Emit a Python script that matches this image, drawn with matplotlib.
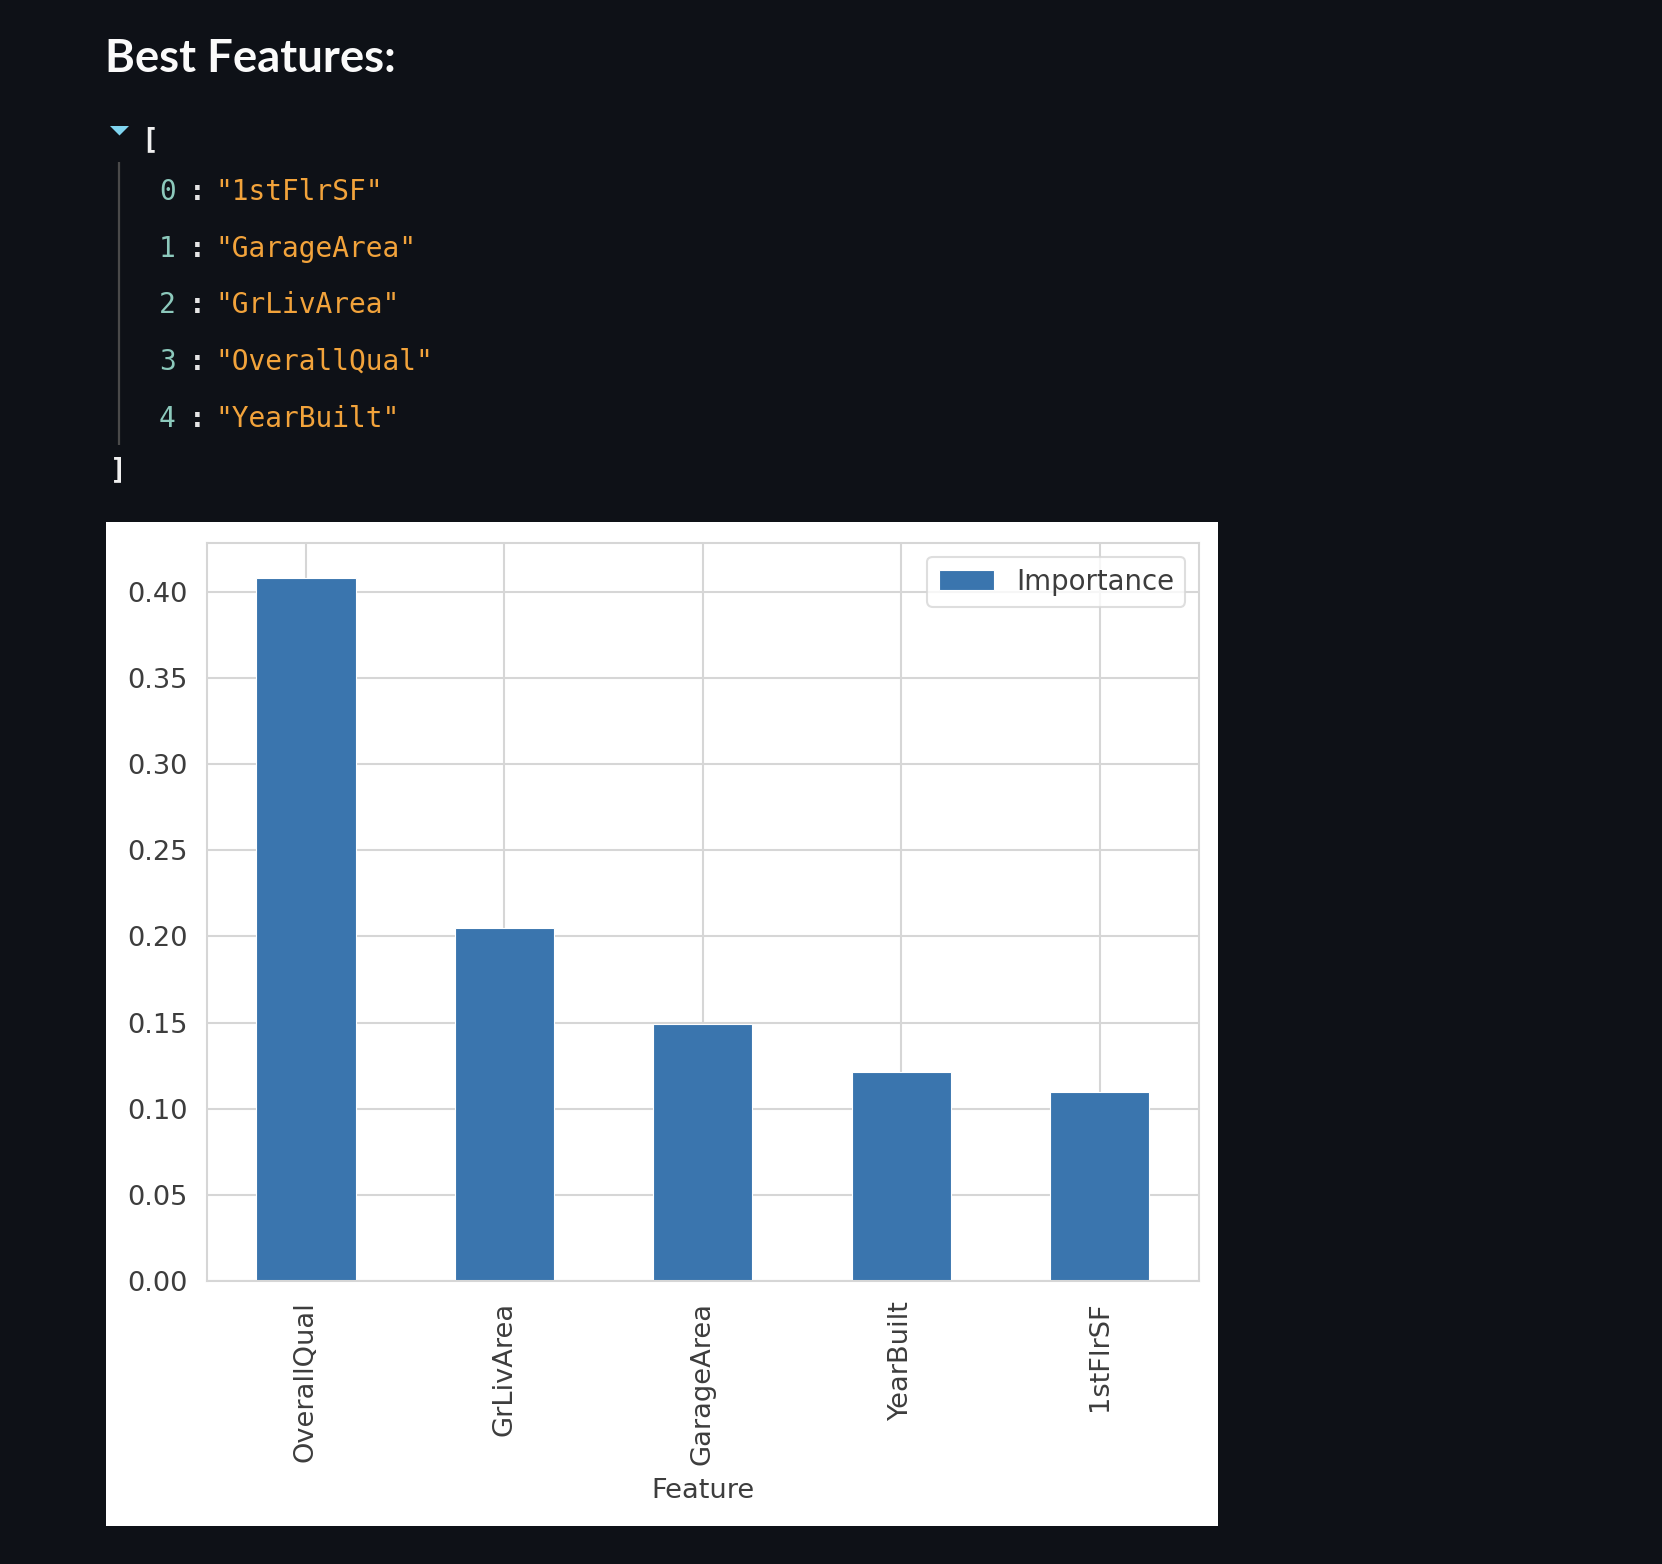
import matplotlib
matplotlib.use("Agg")
import matplotlib.pyplot as plt
from matplotlib.patches import Rectangle, Polygon

# ---- data ----
features = ["OverallQual", "GrLivArea", "GarageArea", "YearBuilt", "1stFlrSF"]
importance = [0.408, 0.205, 0.149, 0.121, 0.1095]
best_features = ["1stFlrSF", "GarageArea", "GrLivArea", "OverallQual", "YearBuilt"]
yticks = [0.00, 0.05, 0.10, 0.15, 0.20, 0.25, 0.30, 0.35, 0.40]
title_text = "Best Features:"
legend_label = "Importance"
xlabel_text = "Feature"

W, H = 1662, 1564
BG = "#0e1117"
fig = plt.figure(figsize=(W / 100, H / 100), dpi=100, facecolor=BG)

# full-figure overlay axes in pixel coordinates
bg = fig.add_axes([0, 0, 1, 1])
bg.set_xlim(0, W)
bg.set_ylim(H, 0)
bg.axis("off")
bg.set_zorder(0)

# title
bg.text(105, 72, title_text, color="#fafafa", fontsize=32.8, fontweight="bold",
        family=["Lato", "DejaVu Sans"], va="baseline", ha="left")

# JSON view
bg.add_patch(Polygon([[110, 126], [129, 126], [119.5, 135.5]], closed=True,
                     facecolor="#7fd4ef", edgecolor="none"))
mono = ["DejaVu Sans Mono"]
fs = 20.1
bg.text(141, 140, "[", color="#f0f0f0", fontsize=fs, family=mono, fontweight="bold",
        va="center", ha="left")
bg.plot([119, 119], [162, 445], color="#4a4a4a", lw=1.6, solid_capstyle="butt")
baselines = [200, 256.7, 313.3, 370, 426.7]
for i, (name, yb) in enumerate(zip(best_features, baselines)):
    bg.text(159, yb, str(i), color="#8cc9bc", fontsize=fs, family=mono, va="baseline", ha="left")
    bg.text(197, yb, ":", color="#e6e6e6", fontsize=fs, family=mono, fontweight="bold",
            va="baseline", ha="center")
    bg.text(215.5, yb, f'"{name}"', color="#f2a33b", fontsize=fs, family=mono,
            va="baseline", ha="left")
bg.text(110, 470, "]", color="#f0f0f0", fontsize=fs, family=mono, fontweight="bold",
        va="center", ha="left")

# white image panel
bg.add_patch(Rectangle((106, 522), 1218 - 106, 1526 - 522, facecolor="white", edgecolor="none"))

# ---- chart ----
left, right, top, bottom = 206.7, 1198.9, 542.7, 1280.7
ax = fig.add_axes([left / W, 1 - bottom / H, (right - left) / W, (bottom - top) / H])
ax.set_zorder(2)
ax.set_facecolor("white")

x = list(range(len(features)))
ax.bar(x, importance, width=0.5, color="#3a75ae", edgecolor="white", linewidth=0.8,
       label=legend_label, zorder=2)
ax.set_xlim(-0.5, len(features) - 0.5)
ax.set_ylim(0, 0.4288)
ax.set_yticks(yticks)
ax.set_yticklabels([f"{v:.2f}" for v in yticks])
ax.set_xticks(x)
ax.set_xticklabels(features, rotation=90)

text_c = "#3d3d3d"
ax.tick_params(axis="y", length=0, pad=14, labelsize=19.6, labelcolor=text_c)
ax.tick_params(axis="x", length=0, pad=15, labelsize=19.6, labelcolor=text_c)
ax.grid(True, color="#d6d6d6", linewidth=1.5, zorder=0)
ax.set_axisbelow(True)
for s in ax.spines.values():
    s.set_color("#d6d6d6")
    s.set_linewidth(1.5)

ax.set_xlabel(xlabel_text, fontsize=19.6, color=text_c, labelpad=10)

leg = ax.legend(loc="upper right", fontsize=19.9, frameon=True, fancybox=True,
                borderaxespad=0.5)
leg.get_frame().set_edgecolor("#d6d6d6")
leg.get_frame().set_linewidth(1.5)
for t in leg.get_texts():
    t.set_color(text_c)

fig.savefig("out.png", dpi=100, facecolor=BG)
